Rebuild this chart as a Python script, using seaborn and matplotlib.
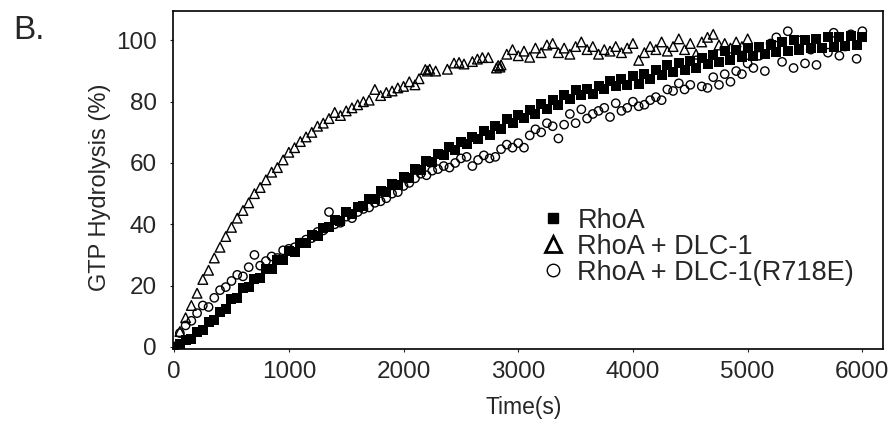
import seaborn as sns
import matplotlib
matplotlib.use("Agg")
import matplotlib.pyplot as plt
import pandas as pd
from matplotlib.lines import Line2D

# sampling grid (s) for RhoA and R718E traces
rhoa_time = list(range(0, 6001, 50))
rhoa_vals = [
    0, 0.8, 2.4, 2.6, 4.9, 5.6, 8.1, 8.7, 11.4, 12.5,
    15.6, 16.0, 19.1, 19.4, 22.2, 22.6, 25.3, 25.4, 28.3, 28.5,
    31.2, 31.0, 33.8, 34.0, 36.4, 36.3, 38.9, 39.0, 41.3, 41.0,
    43.9, 43.3, 45.8, 45.9, 48.4, 48.3, 50.9, 50.4, 53.3, 52.8,
    55.4, 55.2, 58.0, 57.6, 60.6, 60.2, 63.0, 62.7, 65.1, 64.2,
    67.0, 66.1, 68.6, 67.7, 70.6, 69.2, 72.1, 71.0, 74.2, 73.1,
    75.7, 74.6, 77.2, 76.0, 79.1, 77.6, 80.6, 79.0, 82.1, 81.0,
    83.7, 82.1, 84.3, 82.4, 85.2, 84.0, 86.8, 85.0, 87.4, 85.3,
    88.3, 85.9, 88.9, 87.3, 90.4, 88.7, 91.9, 89.6, 92.5, 90.2,
    93.4, 91.1, 94.4, 92.2, 95.3, 93.1, 96.4, 93.7, 96.9, 94.6,
    97.5, 95.0, 98.0, 95.6, 98.5, 96.1, 99.4, 96.7, 100.0, 97.0,
    100.1, 97.6, 100.5, 97.6, 101.0, 98.0, 101.0, 98.1, 101.4, 98.5,
    101.2,
]

mut_time = list(range(0, 6001, 50))
mut_vals = [
    0, 4.5, 7, 8.5, 11, 13.5, 13, 16, 18.5, 19.5,
    21.5, 23.5, 23, 26, 30, 26.5, 28, 29.5, 29, 31.5,
    32, 32.5, 34, 35, 35.5, 37.5, 38, 44, 40, 40.5,
    42.5, 42, 44, 45, 45.5, 47, 47.5, 48.5, 50, 50.5,
    52.5, 53.5, 55, 56.5, 56, 57.5, 58, 59, 58.5, 60,
    61.5, 62, 59, 61, 62.5, 61.5, 62, 64.5, 66, 65,
    66.5, 65, 69, 71, 70, 73, 72, 68, 72.5, 76,
    73, 77.5, 74.5, 76, 77, 78, 75, 79.5, 77, 78,
    80, 78.5, 79, 80.5, 81.5, 80.5, 84, 83.5, 86, 84,
    85.5, 93.5, 85, 84.5, 88, 85.5, 89, 86.5, 90, 89,
    92.5, 91, 95, 90, 99, 101, 93, 103, 91, 100,
    92.5, 97, 92, 97.5, 96, 102.5, 95, 98, 102, 94,
    103,
]

dlc_time = (list(range(0, 2101, 50))
            + [2135, 2190, 2208, 2228, 2280, 2382, 2440, 2484, 2527, 2600,
               2644, 2687, 2739, 2810, 2825, 2840]
            + list(range(2850, 5001, 50)))
dlc_vals = [
    0, 5, 9.5, 13.5, 17.5, 22, 25, 29, 32.5, 36,
    39, 42, 44.5, 47, 50, 52, 54.5, 57, 58.5, 61,
    63.5, 65, 67, 68.5, 70, 72, 73, 74.5, 76.5, 75.5,
    77, 78, 79, 80, 80.5, 84, 82, 83, 83.5, 84.5,
    85, 86.5, 85.5,
    87.5, 90.5, 90, 90.6, 90, 90.6, 92.6, 92.8, 92.3, 93.1,
    93.9, 94.4, 94.4, 91, 91.8, 91.3,
    92, 95.5, 97, 95, 96.5, 94.5, 97.5, 96, 98.5, 99,
    96, 97.5, 95.5, 98, 99.5, 97, 98, 95.5, 97, 96.5,
    98, 96, 97.5, 99, 93.5, 96, 98, 97, 99.5, 96.5,
    98, 100.5, 97, 99, 95.5, 99.5, 101, 102, 98.5, 99,
    97.5, 99.5, 98, 100.5,
]

labels = ["RhoA", "RhoA + DLC-1", "RhoA + DLC-1(R718E)"]

sns.set_style("ticks")
plt.rcParams["font.family"] = ["Liberation Sans", "DejaVu Sans"]

fig = plt.figure(figsize=(8.96, 4.3), dpi=100)
ax = fig.add_axes([173 / 896, 81 / 430, 710 / 896, 338 / 430])

df_rhoa = pd.DataFrame({"t": rhoa_time, "v": rhoa_vals})
df_mut = pd.DataFrame({"t": mut_time, "v": mut_vals})
df_dlc = pd.DataFrame({"t": dlc_time, "v": dlc_vals})

sns.scatterplot(data=df_rhoa, x="t", y="v", marker="s", s=55, color="black",
                edgecolor="black", linewidth=0, ax=ax, zorder=2)
sns.scatterplot(data=df_mut, x="t", y="v", marker="o", s=36, facecolor="none",
                edgecolor="black", linewidth=1.0, ax=ax, zorder=3)
sns.scatterplot(data=df_dlc, x="t", y="v", marker="^", s=48, facecolor="none",
                edgecolor="black", linewidth=1.0, ax=ax, zorder=4)

ax.set_xlim(-10, 6180)
ax.set_ylim(-0.7, 109.6)
ax.set_xticks(range(0, 6001, 1000))
ax.set_yticks(range(0, 101, 20))
ax.tick_params(direction="out", length=2.5, width=0.8, labelsize=17.5, pad=6)
ax.tick_params(axis="y", pad=9)
for sp in ax.spines.values():
    sp.set_linewidth(1.2)
    sp.set_color("black")

ax.set_xlabel("Time(s)", fontsize=16.5)
ax.set_ylabel("GTP Hydrolysis (%)", fontsize=17)
ax.xaxis.set_label_coords(0.494, -0.14)
ax.yaxis.set_label_coords(-0.088, 0.48)

handles = [
    Line2D([], [], marker="s", color="black", ls="none", ms=7),
    Line2D([], [], marker="^", mfc="none", mec="black", mew=2, ms=12, ls="none"),
    Line2D([], [], marker="o", mfc="none", mec="black", mew=1, ms=9, ls="none"),
]
ax.legend(handles, labels, loc="center left", bbox_to_anchor=(0.52, 0.303),
          frameon=False, fontsize=19.5, handlelength=0.8, handletextpad=0.5,
          labelspacing=0.0, borderpad=0, borderaxespad=0)

fig.text(13 / 896, 1 - 39 / 430, "B.", fontsize=24, ha="left", va="baseline")

plt.savefig("out.png", dpi=100)
